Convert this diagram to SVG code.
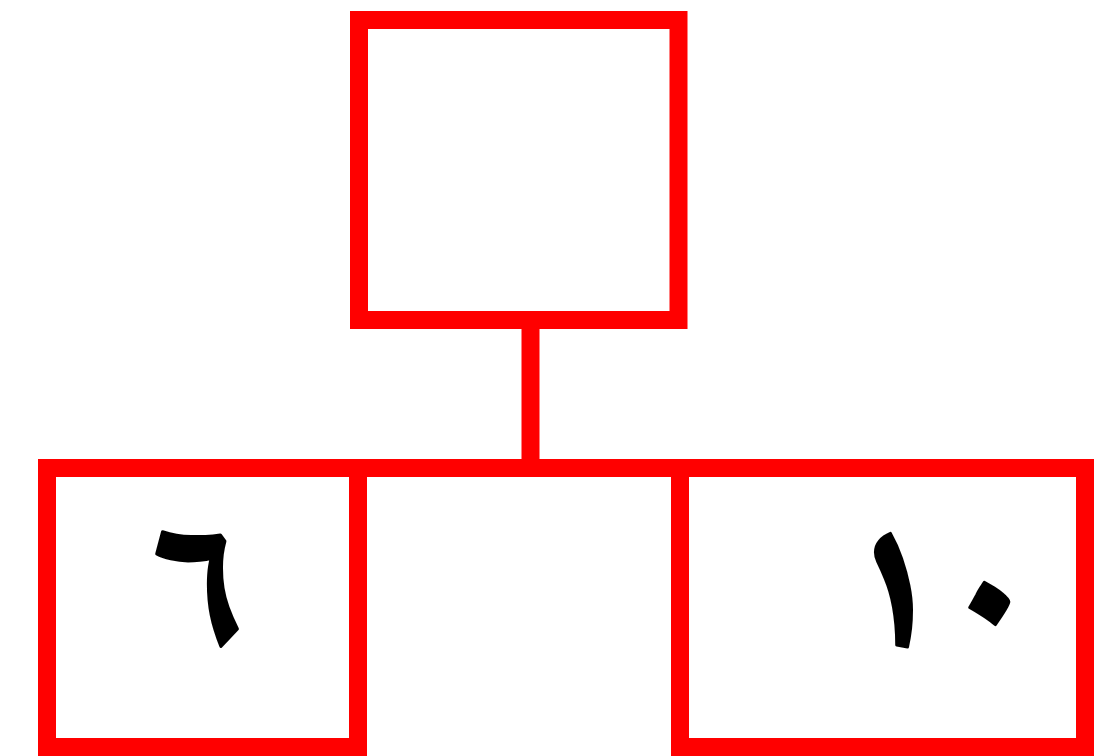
<svg xmlns="http://www.w3.org/2000/svg" width="1097" height="756" viewBox="0 0 1097 756">
<style>
.box{fill:#fff;stroke:#ff0000;stroke-width:18}
.lbl{font-family:"Noto Naskh Arabic","Noto Sans Arabic","DejaVu Sans",sans-serif;font-weight:bold;font-size:190px;fill:#000;stroke:#000;stroke-width:3;stroke-linejoin:round;text-anchor:middle}
.conn{stroke:#ff0000;stroke-width:18;fill:none}
</style>
<rect width="1097" height="756" fill="#fff"/>
<g id="connectors">
<line class="conn" x1="530.5" y1="320" x2="530.5" y2="468"/>
<line class="conn" x1="358" y1="468" x2="680" y2="468"/>
</g>
<g id="top"><rect class="box" x="359" y="20" width="319.5" height="300"/></g>
<g id="left"><rect class="box" x="47" y="468" width="311" height="279"/><text class="lbl" x="198" y="647">٦</text></g>
<g id="right"><rect class="box" x="680" y="468" width="405" height="279"/><text class="lbl" x="941" y="647">١٠</text></g>
</svg>
